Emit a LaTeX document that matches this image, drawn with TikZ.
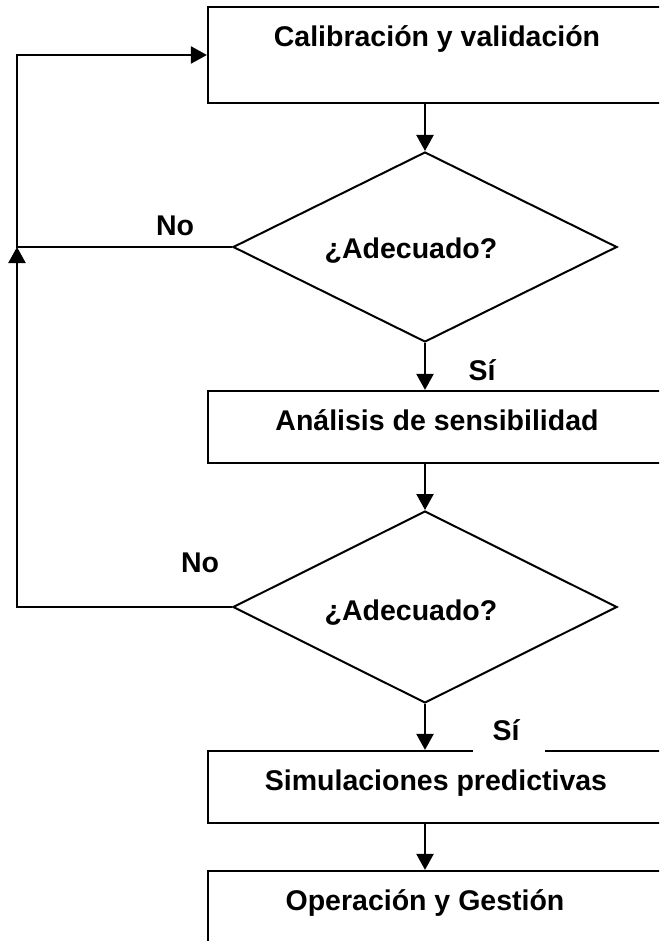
\documentclass[tikz,border=0pt]{standalone}
\usepackage{fontspec}
\setmainfont{Liberation Sans}
\usetikzlibrary{shapes.geometric,arrows.meta}
\tikzset{
  box/.style={draw, line width=2.2pt, rectangle, inner sep=0pt, minimum width=512pt},
  dia/.style={draw, line width=2pt, diamond, inner sep=0pt, minimum width=384pt},
  txt/.style={anchor=base, inner sep=0pt, font=\fontsize{28.5}{34}\selectfont\bfseries},
  conn/.style={line width=2.2pt, -{Triangle[length=16pt,width=17pt]}}
}
\begin{document}
\begin{tikzpicture}[x=1pt,y=-1pt]
\useasboundingbox (0,0) rectangle (659,941);
\clip (0,0) rectangle (659,941);
\fill[white] (0,0) rectangle (659,941);
% boxes
\node[box, minimum height=96pt] (b1) at (464,55) {};
\node[dia, minimum height=190pt] (d1) at (425,247) {};
\node[box, minimum height=72pt] (b2) at (464,427) {};
\node[dia, minimum height=192pt] (d2) at (425,607) {};
\node[box, minimum height=72pt] (b3) at (464,787) {};
\node[box, minimum height=72pt] (b4) at (464,907) {};
% texts
\node[txt] (t1) at (437,47) {Calibración y validación};
\node[txt] (q1) at (411,258) {¿Adecuado?};
\node[txt] (t2) at (437,430) {Análisis de sensibilidad};
\node[txt] (q2) at (411,620) {¿Adecuado?};
\node[txt] (t3) at (436,790) {Simulaciones predictivas};
\node[txt] (t4) at (425,910) {Operación y Gestión};
% coordinates for loops
\coordinate (c1) at (17,247);
\coordinate (c2) at (17,607);
% connectors
\draw[conn] (d1.north |- b1.south) -- (d1.north);
\draw[conn] (d1.south) -- (d1.south |- b2.north);
\draw[conn] (d2.north |- b2.south) -- (d2.north);
\draw[conn] (d2.south) -- (d2.south |- b3.north);
\draw[conn] (d2.south |- b3.south) -- (d2.south |- b4.north);
\draw[conn] (d1.west) -- (c1) |- (b1.west);
\draw[conn] (d2.west) -- (c2) -- (c1);
% labels
\node[txt] (no1) at (175,236) {No};
\node[txt] (no2) at (200,572) {No};
\node[txt] (si1) at (482,380) {Sí};
\fill[white] (473,712) rectangle (545,753);
\node[txt] (si2) at (506,740) {Sí};
\end{tikzpicture}
\end{document}
